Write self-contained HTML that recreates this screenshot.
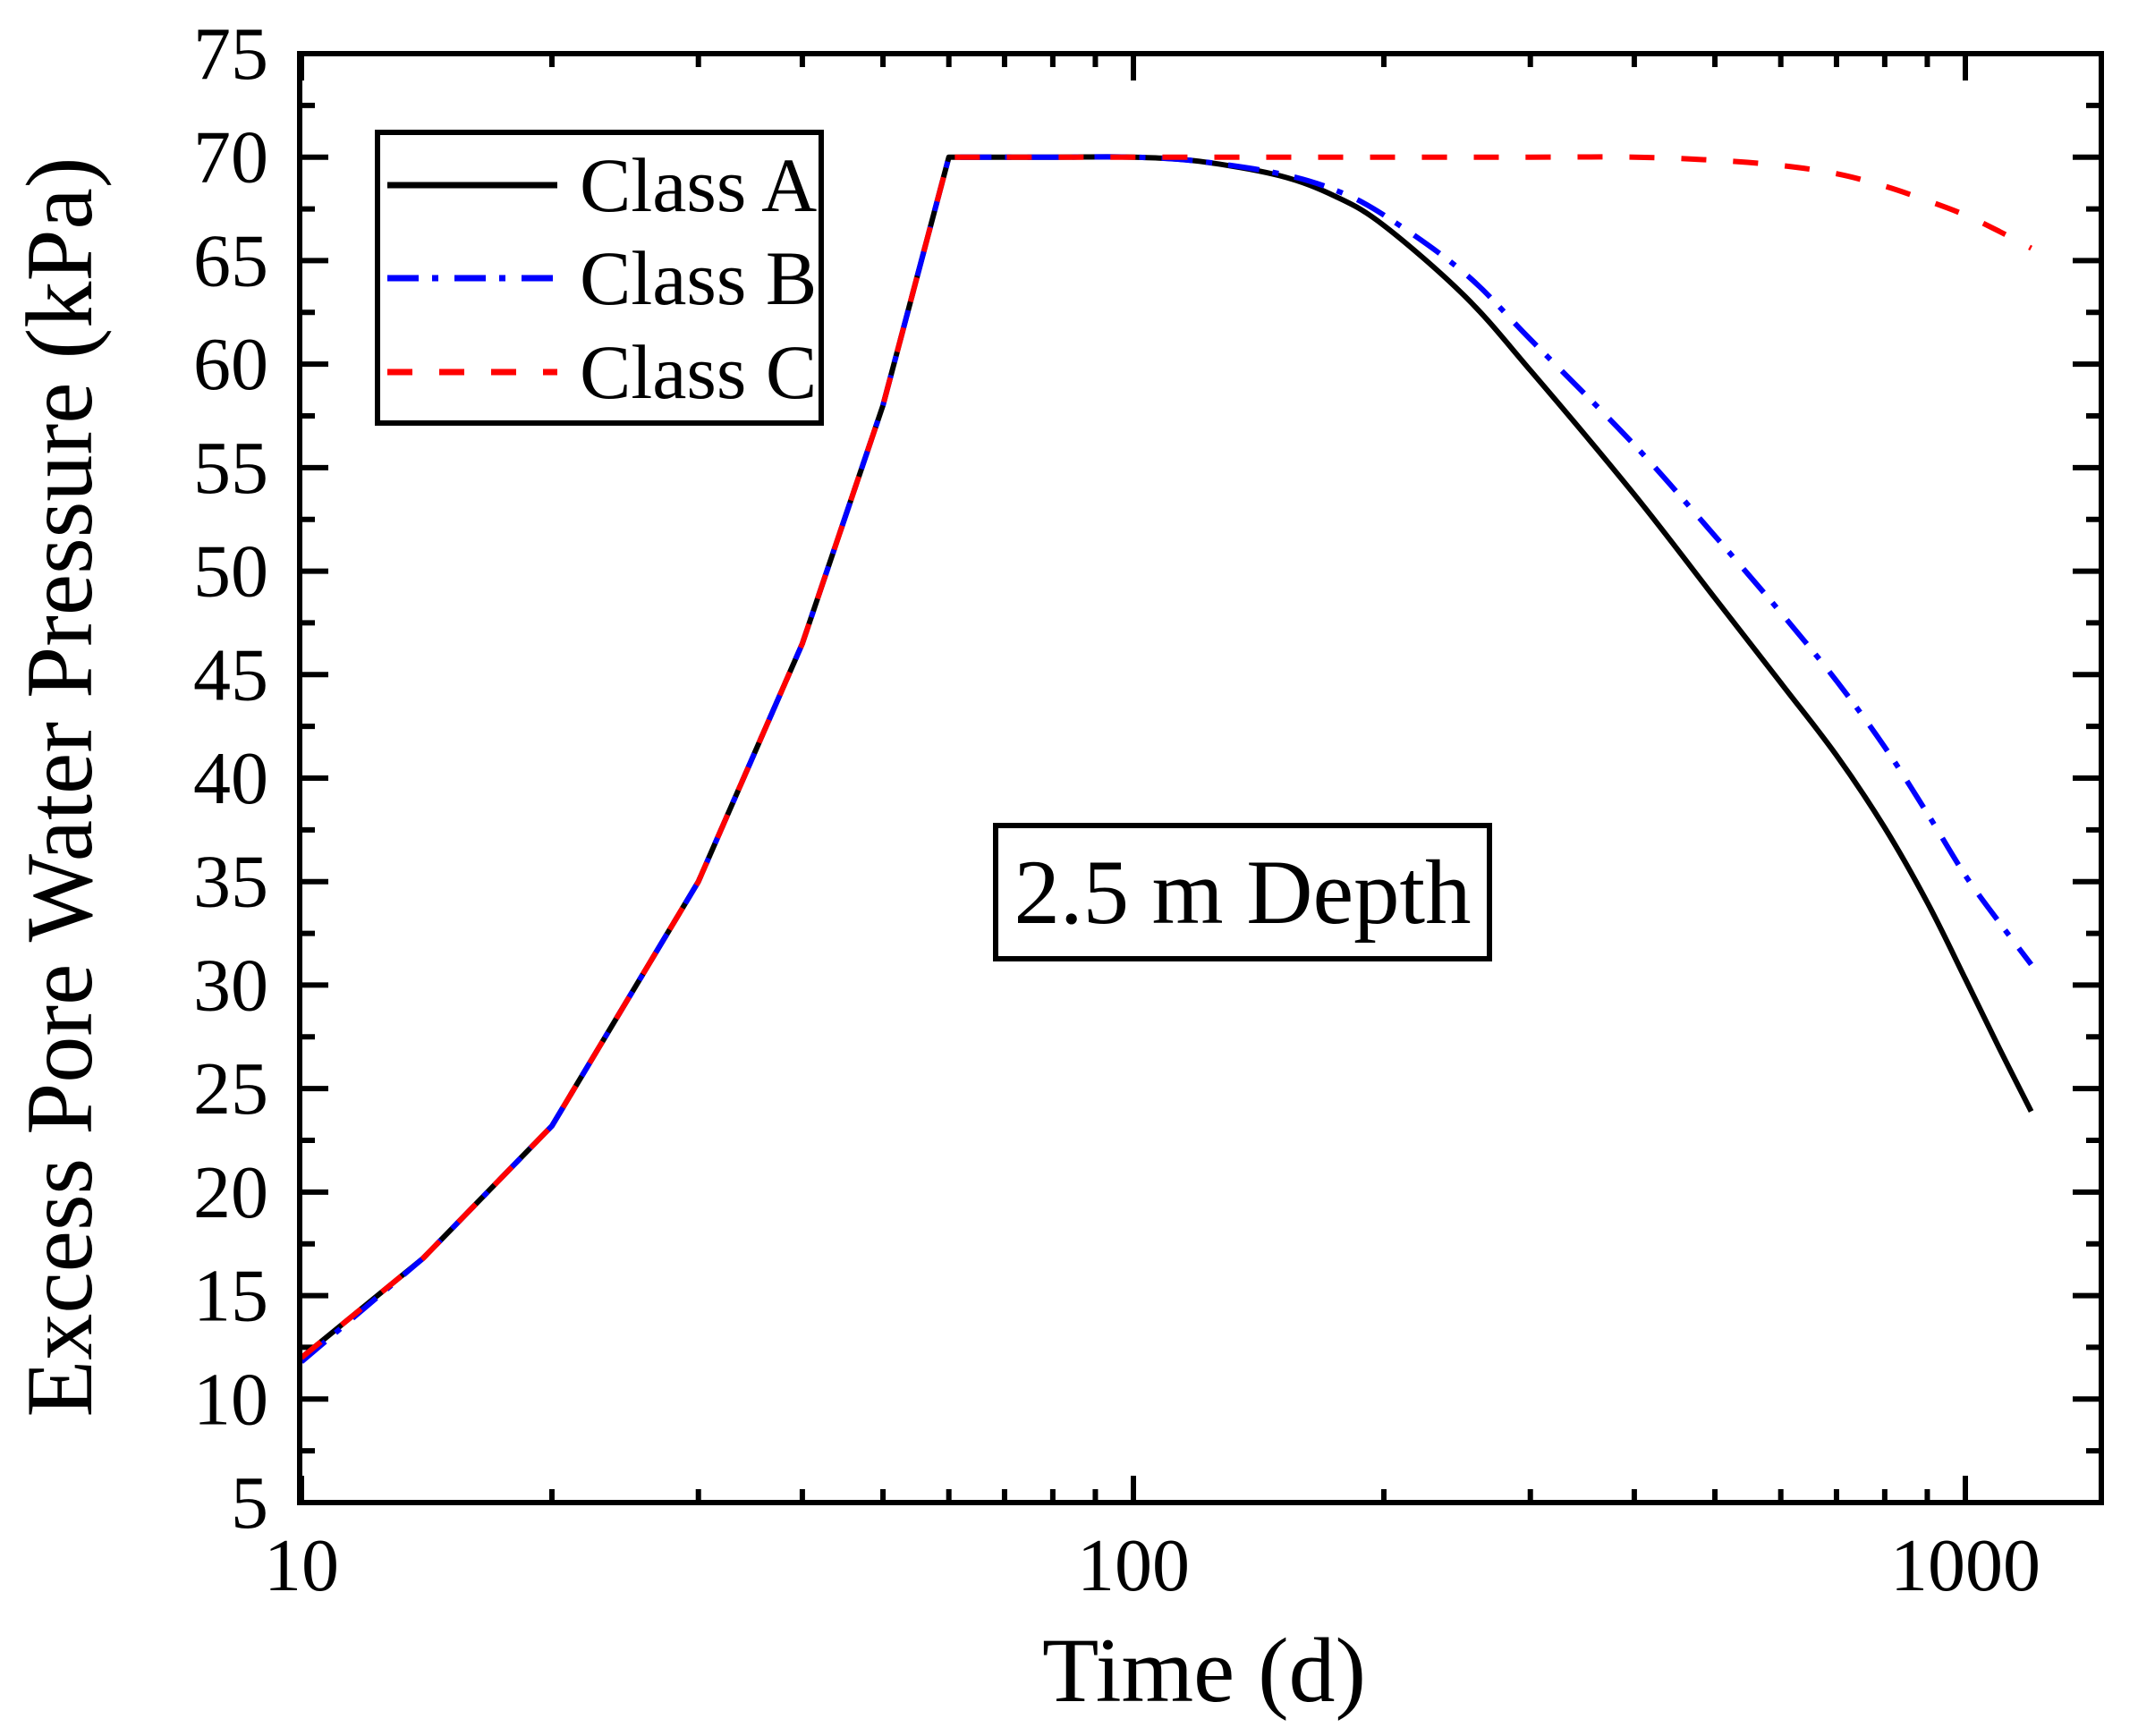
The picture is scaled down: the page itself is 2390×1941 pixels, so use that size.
<!DOCTYPE html>
<html><head><meta charset="utf-8"><style>
html,body{margin:0;padding:0;background:#fff;}
svg{display:block;}
text{font-family:"Liberation Serif",serif;fill:#000;}
</style></head><body>
<svg id="s" width="2390" height="1941" viewBox="0 0 2390 1941" xmlns="http://www.w3.org/2000/svg">
<rect x="0" y="0" width="2390" height="1941" fill="#fff"/>
<g id="ticks" stroke="#000" stroke-width="6"></g>
<g id="labels" font-size="84"></g>
<g id="curves" fill="none" stroke-width="6" stroke-linejoin="round"></g>
<rect x="335" y="60" width="2014" height="1620" fill="none" stroke="#000" stroke-width="6"/>
<rect x="422" y="148" width="496" height="325" fill="#fff" stroke="#000" stroke-width="6"/>
<line x1="433" y1="207" x2="623" y2="207" stroke="#000" stroke-width="7"/>
<line x1="433" y1="311" x2="623" y2="311" stroke="#0000ff" stroke-width="7" stroke-dasharray="35 15 7 18"/>
<line x1="433" y1="416" x2="623" y2="416" stroke="#ff0000" stroke-width="7" stroke-dasharray="28 30"/>
<text x="648" y="236" font-size="86">Class A</text>
<text x="648" y="340" font-size="86">Class B</text>
<text x="648" y="445" font-size="86">Class C</text>
<rect x="1113" y="923" width="552" height="149" fill="#fff" stroke="#000" stroke-width="6"/>
<text x="1389" y="1032" font-size="103" text-anchor="middle" textLength="511" lengthAdjust="spacingAndGlyphs">2.5 m Depth</text>
<text x="1346" y="1902" font-size="103" text-anchor="middle" textLength="362" lengthAdjust="spacingAndGlyphs">Time (d)</text>
<text transform="translate(102,880) rotate(-90)" font-size="106" text-anchor="middle" textLength="1409" lengthAdjust="spacingAndGlyphs">Excess Pore Water Pressure (kPa)</text>
</svg>
<script>
(function(){
var NS="http://www.w3.org/2000/svg";
function X(t){return 337+930*Math.log10(t/10);}
function Y(v){return 1680-(v-5)*23.143;}
var tk=document.getElementById('ticks'),lb=document.getElementById('labels'),cv=document.getElementById('curves');
function line(x1,y1,x2,y2){var l=document.createElementNS(NS,'line');l.setAttribute('x1',x1);l.setAttribute('y1',y1);l.setAttribute('x2',x2);l.setAttribute('y2',y2);tk.appendChild(l);}
function txt(x,y,s,anchor){var t=document.createElementNS(NS,'text');t.setAttribute('x',x);t.setAttribute('y',y);t.setAttribute('text-anchor',anchor);t.textContent=s;lb.appendChild(t);}
for(var v=5;v<=75;v+=2.5){var y=Y(v);var maj=(v%5===0);var L=maj?32:17;
 line(335,y,335+L,y);line(2349,y,2349-L,y);
 if(maj)txt(300,y+28,String(v),'end');}
for(var d=10;d<=1000;d*=10){for(var m=1;m<10;m++){var t=d*m;var x=X(t);if(x>2349)break;var maj=(m===1);var L=maj?30:15;
 line(x,1680,x,1680-L);line(x,60,x,60+L);
 if(maj)txt(x,1778,String(t),'middle');}}
function path(lin,smooth,color,dash){
 var P=lin.map(function(p){return [X(p[0]),Y(p[1])];});
 var S=smooth.map(function(p){return [X(p[0]),Y(p[1])];});
 var d='';P.forEach(function(p,i){d+=(i?'L':'M')+p[0].toFixed(1)+','+p[1].toFixed(1);});
 // catmull-rom for smooth part, S[0] equals last of P
 for(var i=0;i<S.length-1;i++){var p0=S[i-1]||S[i],p1=S[i],p2=S[i+1],p3=S[i+2]||S[i+1];
  var c1=[p1[0]+(p2[0]-p0[0])/6,p1[1]+(p2[1]-p0[1])/6],c2=[p2[0]-(p3[0]-p1[0])/6,p2[1]-(p3[1]-p1[1])/6];
  d+='C'+c1[0].toFixed(1)+','+c1[1].toFixed(1)+' '+c2[0].toFixed(1)+','+c2[1].toFixed(1)+' '+p2[0].toFixed(1)+','+p2[1].toFixed(1);}
 var p=document.createElementNS(NS,'path');p.setAttribute('d',d);p.setAttribute('stroke',color);if(dash)p.setAttribute('stroke-dasharray',dash);cv.appendChild(p);}
var rise=[[10,12],[14,16.8],[20,23.2],[30,35],[40,46.5],[50,58],[60,70]];
var A=[[60,70],[80,70],[100,70],[120,69.8],[150,69.1],[175,68.1],[200,66.7],[250,63.3],[300,59.7],[400,53.7],[500,48.7],[600,44.6],[700,41.1],[800,37.6],[900,34],[1000,30.3],[1100,26.9],[1200,23.9]];
var B=[[60,70],[80,70],[100,70],[120,69.8],[150,69.2],[175,68.4],[200,67.2],[250,64.4],[300,61.2],[400,56.1],[500,51.7],[600,48],[700,44.7],[800,41.5],[900,38.3],[1000,35.3],[1100,33],[1200,31]];
var C=[[60,70],[200,70],[300,70],[400,70],[500,69.85],[600,69.6],[700,69.2],[800,68.6],[900,67.9],[1000,67.2],[1100,66.4],[1200,65.6]];
path(rise,A,'#000',null);
path([[10,11.8]].concat(rise.slice(1)),B,'#0000ff','35 15 7 18');
path(rise,C,'#ff0000','28 30');
})();
</script>
</body></html>
